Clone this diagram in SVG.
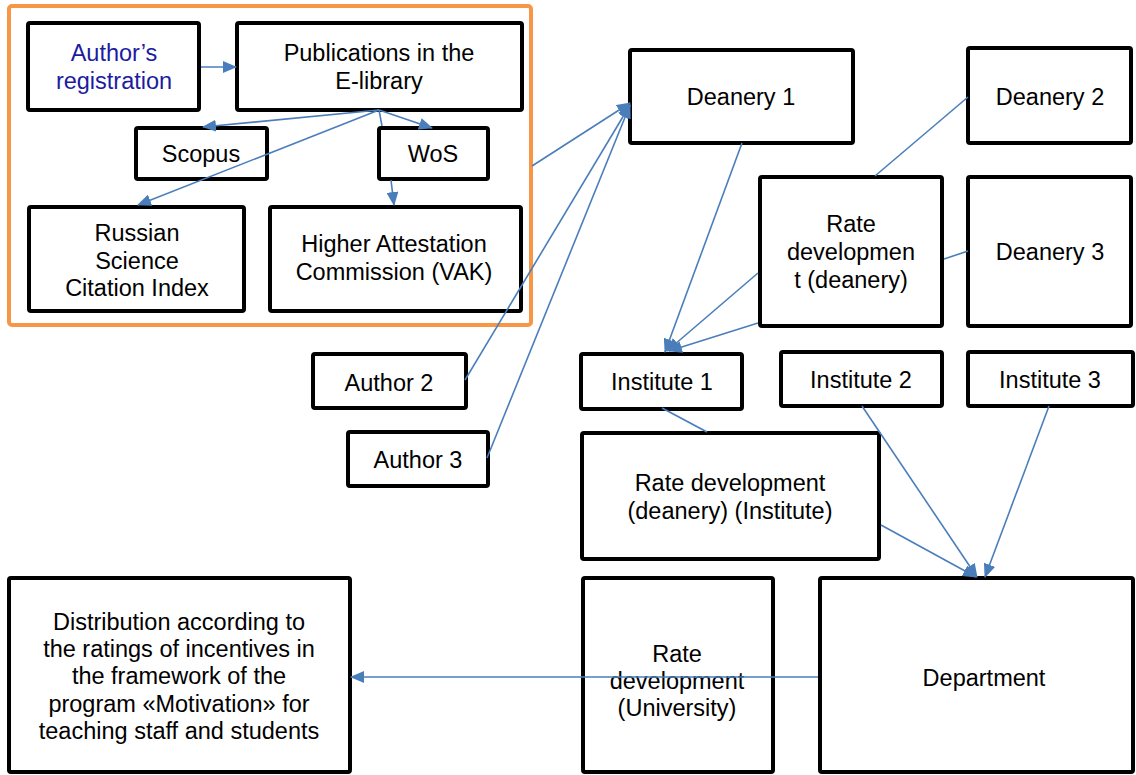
<svg xmlns="http://www.w3.org/2000/svg" width="1136" height="775" viewBox="0 0 1136 775">
<style>
.box{fill:#fff;stroke:#000;stroke-width:4}
.t{font-family:"Liberation Sans",Arial,sans-serif;font-size:23.5px;fill:#000;text-anchor:middle}
.blue{fill:#1c1ca0}
.c{stroke:#4a7ebb;stroke-width:1.6;fill:none}
.a{marker-end:url(#arr)}
</style>
<defs>
<marker id="arr" markerUnits="userSpaceOnUse" markerWidth="14" markerHeight="12" refX="13" refY="6" orient="auto">
<path d="M0,0 L14,6 L0,12 z" fill="#4a7ebb"/>
</marker>
</defs>
<rect x="0" y="0" width="1136" height="775" fill="#fff"/>
<rect id="group-frame" x="9" y="6" width="522" height="319" rx="3" fill="none" stroke="#f79646" stroke-width="4"/>
<g id="author-reg"><rect class="box" x="28" y="23" width="171" height="87" rx="2"/><text class="t blue" x="114" y="61">Author’s</text><text class="t blue" x="114" y="89">registration</text></g>
<g id="publications"><rect class="box" x="237" y="23" width="285" height="87" rx="2"/><text class="t" x="379" y="61">Publications in the</text><text class="t" x="379" y="89">E-library</text></g>
<g id="scopus"><rect class="box" x="136" y="128" width="131" height="51" rx="2"/><text class="t" x="201" y="162">Scopus</text></g>
<g id="wos"><rect class="box" x="379" y="128" width="109" height="51" rx="2"/><text class="t" x="433" y="162">WoS</text></g>
<g id="rsci"><rect class="box" x="29" y="207" width="215" height="104" rx="2"/><text class="t" x="137" y="241">Russian</text><text class="t" x="137" y="269">Science</text><text class="t" x="137" y="296">Citation Index</text></g>
<g id="vak"><rect class="box" x="270" y="207" width="251" height="104" rx="2"/><text class="t" x="394" y="252">Higher Attestation</text><text class="t" x="394" y="280">Commission (VAK)</text></g>
<g id="deanery1"><rect class="box" x="630" y="50" width="223" height="93" rx="2"/><text class="t" x="741" y="105">Deanery 1</text></g>
<g id="deanery2"><rect class="box" x="968" y="48" width="163" height="95" rx="2"/><text class="t" x="1050" y="105">Deanery 2</text></g>
<g id="rate-deanery"><rect class="box" x="760" y="177" width="182" height="149" rx="2"/><text class="t" x="851" y="232">Rate</text><text class="t" x="851" y="260">developmen</text><text class="t" x="851" y="288">t (deanery)</text></g>
<g id="deanery3"><rect class="box" x="968" y="177" width="163" height="149" rx="2"/><text class="t" x="1050" y="260">Deanery 3</text></g>
<g id="author2"><rect class="box" x="313" y="354" width="153" height="54" rx="2"/><text class="t" x="389" y="391">Author 2</text></g>
<g id="author3"><rect class="box" x="348" y="432" width="140" height="54" rx="2"/><text class="t" x="418" y="468">Author 3</text></g>
<g id="institute1"><rect class="box" x="581" y="354" width="161" height="55" rx="2"/><text class="t" x="662" y="390">Institute 1</text></g>
<g id="institute2"><rect class="box" x="781" y="352" width="161" height="54" rx="2"/><text class="t" x="861" y="388">Institute 2</text></g>
<g id="institute3"><rect class="box" x="968" y="352" width="165" height="54" rx="2"/><text class="t" x="1050" y="388">Institute 3</text></g>
<g id="rate-institute"><rect class="box" x="582" y="433" width="297" height="126" rx="2"/><text class="t" x="730" y="491">Rate development</text><text class="t" x="730" y="519">(deanery) (Institute)</text></g>
<g id="distribution"><rect class="box" x="9" y="578" width="341" height="194" rx="2"/><text class="t" x="179" y="630">Distribution according to</text><text class="t" x="179" y="657">the ratings of incentives in</text><text class="t" x="179" y="684">the framework of the</text><text class="t" x="179" y="712">program «Motivation» for</text><text class="t" x="179" y="739">teaching staff and students</text></g>
<g id="rate-university"><rect class="box" x="583" y="578" width="190" height="194" rx="2"/><text class="t" x="677" y="662">Rate</text><text class="t" x="677" y="689">development</text><text class="t" x="677" y="716">(University)</text></g>
<g id="department"><rect class="box" x="820" y="578" width="313" height="194" rx="2"/><text class="t" x="984" y="686">Department</text></g>
<g id="connectors">
<path class="c a" d="M201,67 L236,67"/>
<path class="c a" d="M379,110 L203,127"/>
<path class="c a" d="M379,110 L138,205"/>
<path class="c a" d="M379,110 L432,128"/>
<path class="c" d="M379,110 L382,126"/>
<path class="c a" d="M391,180 L394,205"/>
<path class="c a" d="M532,166 L630,103"/>
<path class="c a" d="M465,380 L630,105"/>
<path class="c a" d="M487,458 L630,105"/>
<path class="c a" d="M742,143 L665,352"/>
<path class="c a" d="M758,273 L667,351"/>
<path class="c a" d="M758,323 L669,351"/>
<path class="c" d="M968,97 L875,176"/>
<path class="c" d="M968,251 L944,259"/>
<path class="c" d="M662,408 L707,432"/>
<path class="c a" d="M881,525 L976,577"/>
<path class="c a" d="M862,406 L977,577"/>
<path class="c a" d="M1049,406 L985,577"/>
<path class="c a" d="M818,677 L351,677"/>
</g>
</svg>
